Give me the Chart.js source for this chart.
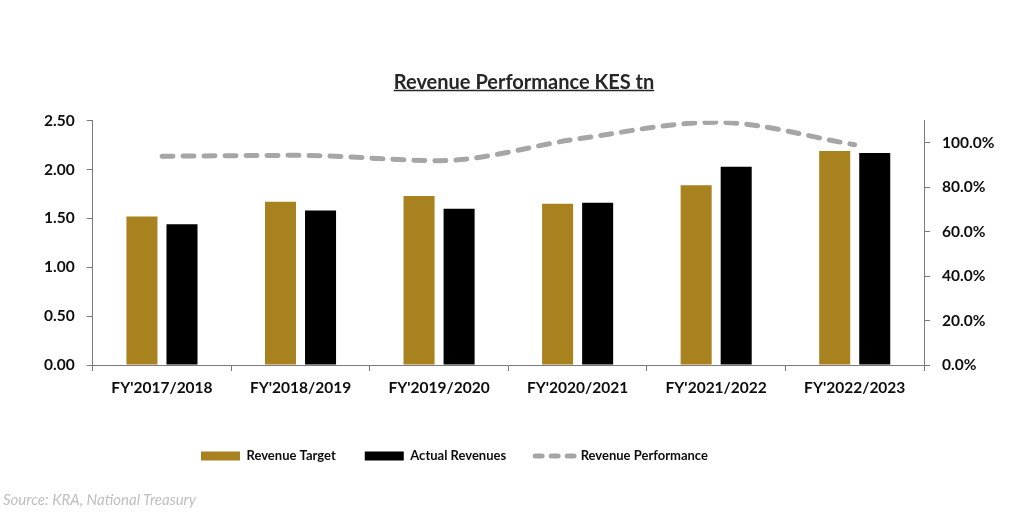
<!DOCTYPE html>
<html>
<head>
<meta charset="utf-8">
<script src="https://cdn.jsdelivr.net/npm/chart.js@4.4.1/dist/chart.umd.min.js"></script>
<style>
  body { margin: 0; background: #fff; }
  #wrap { position: relative; width: 1018px; height: 526px; }
  #source { position: absolute; left: 3px; top: 490px; font: italic 15px Lato, sans-serif; color: #bfbfbf; }
</style>
</head>
<body>
<div id="wrap">
  <canvas id="revenue_chart"></canvas>
  <div id="source">Source: KRA, National Treasury</div>
</div>
<script>
var categories = ["FY'2017/2018", "FY'2018/2019", "FY'2019/2020", "FY'2020/2021", "FY'2021/2022", "FY'2022/2023"];
var revenue_target = [1.52, 1.67, 1.73, 1.65, 1.84, 2.19];
var actual_revenues = [1.44, 1.58, 1.60, 1.66, 2.03, 2.17];
var revenue_performance = [0.940, 0.944, 0.920, 1.018, 1.093, 0.992];

var title_text = 'Revenue Performance KES tn';
var tick_font = { family: 'Lato', size: 15.5, weight: 'bold' };

// nudge title / legend to where the original sits, and underline the title
var layout_tweaks = {
  id: 'layout_tweaks',
  afterLayout: function(chart) {
    var t = chart.titleBlock;
    t.left += 15; t.right += 15;
    var lg = chart.legend;
    var pad = lg.options.labels.padding;
    lg.left = 201 - pad;
  },
  afterDraw: function(chart) {
    var ctx = chart.ctx;
    var t = chart.titleBlock;
    ctx.save();
    ctx.font = 'bold 20px Lato';
    var w = ctx.measureText(title_text).width;
    var cx = (t.left + t.right) / 2;
    var y = 70.5 + 12 + 8;
    ctx.strokeStyle = '#262626';
    ctx.lineWidth = 1.5;
    ctx.beginPath();
    ctx.moveTo(cx - w / 2, y);
    ctx.lineTo(cx + w / 2, y);
    ctx.stroke();
    ctx.restore();
  }
};

var ctx = document.getElementById('revenue_chart').getContext('2d');
new Chart(ctx, {
  type: 'bar',
  data: {
    labels: categories,
    datasets: [{
      label: 'Revenue Target',
      data: revenue_target,
      backgroundColor: '#a8821e',
      borderWidth: 0,
      pointStyle: 'rect',
      yAxisID: 'y'
    }, {
      label: 'Actual Revenues',
      data: actual_revenues,
      backgroundColor: '#000000',
      borderWidth: 0,
      pointStyle: 'rect',
      yAxisID: 'y'
    }, {
      type: 'line',
      label: 'Revenue Performance',
      data: revenue_performance,
      borderColor: '#a6a6a6',
      backgroundColor: '#a6a6a6',
      borderWidth: 5,
      borderDash: [11, 10],
      borderCapStyle: 'round',
      cubicInterpolationMode: 'monotone',
      pointRadius: 0,
      pointStyle: 'line',
      yAxisID: 'y1'
    }]
  },
  options: {
    responsive: true,
    maintainAspectRatio: false,
    animation: false,
    categoryPercentage: 0.578,
    barPercentage: 0.775,
    layout: { padding: { left: 0, right: 0, top: 0, bottom: 53.5 } },
    plugins: {
      title: {
        display: true,
        text: title_text,
        color: '#262626',
        font: { family: 'Lato', size: 20, weight: 'bold', lineHeight: 1.2 },
        padding: { top: 70.5, bottom: 26.2 }
      },
      legend: {
        position: 'bottom',
        align: 'start',
        labels: {
          usePointStyle: true,
          pointStyleWidth: 39,
          boxHeight: 9,
          padding: 29,
          color: '#0d0d0d',
          font: { family: 'Lato', size: 13, weight: 'bold' },
          generateLabels: function(chart) {
            var items = Chart.defaults.plugins.legend.labels.generateLabels(chart);
            items.forEach(function(item) {
              if (item.pointStyle === 'line') {
                item.lineDash = [7, 9];
                item.lineCap = 'round';
              }
            });
            return items;
          }
        }
      },
      tooltip: { enabled: false }
    },
    scales: {
      x: {
        grid: { drawOnChartArea: false, drawTicks: true, tickLength: 6, color: '#7a7a7a' },
        border: { color: '#7a7a7a' },
        ticks: { color: '#0d0d0d', font: tick_font, padding: 8, maxRotation: 0 },
        afterFit: function(scale) { scale.height = 55.5; }
      },
      y: {
        position: 'left',
        min: 0,
        max: 2.5,
        grid: { drawOnChartArea: false, drawTicks: true, tickLength: 6, color: '#7a7a7a' },
        border: { color: '#7a7a7a' },
        ticks: {
          stepSize: 0.5,
          padding: 12,
          color: '#0d0d0d',
          font: tick_font,
          callback: function(v) { return v.toFixed(2); }
        },
        afterFit: function(scale) { scale.width = 92.7; }
      },
      y1: {
        position: 'right',
        min: 0,
        max: 1.1,
        grid: { drawOnChartArea: false, drawTicks: true, tickLength: 6, color: '#7a7a7a' },
        border: { color: '#7a7a7a' },
        ticks: {
          stepSize: 0.2,
          includeBounds: false,
          padding: 12,
          color: '#0d0d0d',
          font: tick_font,
          callback: function(v) { return (v * 100).toFixed(1) + '%'; }
        },
        afterFit: function(scale) { scale.width = 94; }
      }
    }
  },
  plugins: [layout_tweaks]
});
</script>
</body>
</html>
